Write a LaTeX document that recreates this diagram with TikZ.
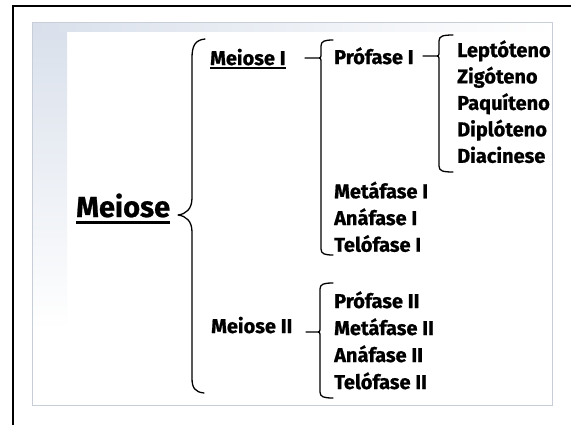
\documentclass[tikz,border=0pt]{standalone}
\usepackage{fontspec}
\setmainfont{Fira Sans}[BoldFeatures={FakeBold=0.8}]
\usetikzlibrary{calc}
\definecolor{panelline}{HTML}{C8CED8}
\definecolor{band}{HTML}{D9E0EB}
\newcommand\brc[6]{% xv, ytop, ytip, ybot, xend, xtip
  \draw[brcline] (#5,#2) .. controls ({#1+4},#2) and (#1,{#2+1}) .. (#1,{#2+6})
    -- (#1,{#3-5}) .. controls (#1,#3) .. ({#1-4},#3) -- (#6,#3) -- ({#1-4},#3)
    .. controls (#1,#3) .. (#1,{#3+5}) -- (#1,{#4-6})
    .. controls (#1,{#4-1}) and ({#1+4},#4) .. (#5,#4);}
\begin{document}
\begin{tikzpicture}[x=1pt,y=-1pt,
  lbl/.style={anchor=base west,inner sep=0pt,font=\bfseries\fontsize{20}{22}\selectfont},
  big/.style={anchor=base west,inner sep=0pt,font=\bfseries\fontsize{29}{32}\selectfont},
  brcline/.style={draw=black,line width=1.3pt,line cap=round,line join=round},
  ul/.style={draw=black,line width=1.5pt}]
\useasboundingbox (0,0) rectangle (571,424);
\fill[white] (0,0) rectangle (571,424);
% outer frame (only left and top visible)
\draw[black,line width=2pt] (12.7,440) -- (12.7,5.7) -- (590,5.7);
% panel
\filldraw[fill=white,draw=panelline,line width=1.2pt] (32.5,22.5) rectangle (552.5,405.5);
\shade[top color=band,bottom color=white] (33.2,23.2) rectangle (67,330);
\shade[left color=band,right color=white] (33.2,23.2) rectangle (551.8,31);
% texts
\node[big] (meiose) at (76,217) {Meiose};
\draw[ul,line width=2.3pt] ($(meiose.base west)+(0,5.5)$) -- ($(meiose.base east)+(0,5.5)$);
\node[lbl] (m1) at (210,65) {Meiose I};
\draw[ul] ($(m1.base west)+(0,3)$) -- ($(m1.base east)+(0,3)$);
\node[lbl] (m2) at (211,333) {Meiose II};
\node[lbl] (p1) at (334,64) {Prófase I};
\node[lbl] (me1) at (334,198.3) {Metáfase I};
\node[lbl] (a1) at (334,225) {Anáfase I};
\node[lbl] (t1) at (334,251.7) {Telófase I};
\node[lbl] (lep) at (457,57) {Leptóteno};
\node[lbl] (zig) at (457,83.4) {Zigóteno};
\node[lbl] (paq) at (457,109.9) {Paquíteno};
\node[lbl] (dip) at (457,136.3) {Diplóteno};
\node[lbl] (dia) at (457,162.8) {Diacinese};
\node[lbl] (p2) at (334,308) {Prófase II};
\node[lbl] (me2) at (334,335) {Metáfase II};
\node[lbl] (a2) at (334,362) {Anáfase II};
\node[lbl] (t2) at (334,389) {Telófase II};
% big brace
\draw[brcline] (205,39) .. controls (195,40) and (192,46) .. (192,58) -- (192,198)
  .. controls (192,209) and (186,214) .. (178,215)
  .. controls (186,216) and (192,221) .. (192,232) -- (192,378)
  .. controls (192,388) and (195,392) .. (204,393);
% other braces
\brc{321}{40}{58}{255}{333}{305}
\brc{439}{35}{56}{172}{453}{423}
\brc{320}{283}{332}{398}{333}{306}
\end{tikzpicture}
\end{document}
